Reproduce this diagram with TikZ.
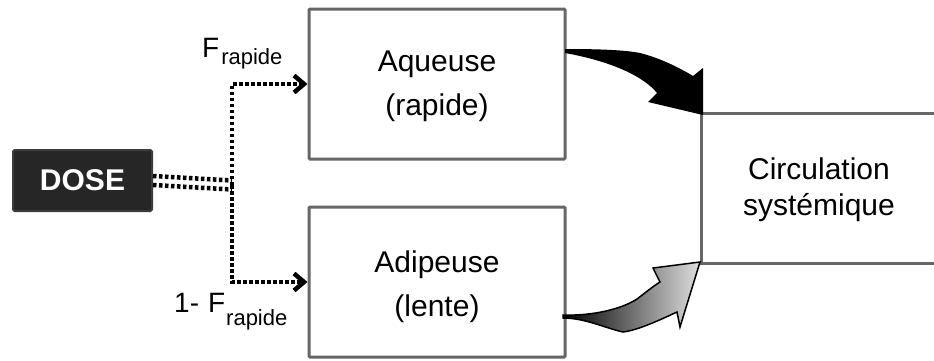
\documentclass[tikz,border=0pt]{standalone}
\usepackage{fontspec}
\setmainfont{Liberation Sans}
\usetikzlibrary{arrows.meta}
\definecolor{boxgray}{HTML}{666666}
\definecolor{dosefill}{HTML}{262626}
\definecolor{doseborder}{HTML}{3C3C3C}
\begin{document}
\begin{tikzpicture}[x=1pt,y=-1pt,
  boxline/.style={draw=boxgray, line width=3pt},
  box/.style={boxline, fill=white, minimum width=256pt, minimum height=150pt, inner sep=0pt, rounded corners=1pt},
  boxtext/.style={align=center, inner sep=0pt, font=\fontsize{30}{44}\selectfont},
  dotline/.style={line width=4.5pt, dash pattern=on 3.5pt off 2.5pt},
  chev/.style={-{Straight Barb[length=10pt,width=17pt,line width=4.5pt]}},
  lbl/.style={anchor=base west, inner sep=0pt, font=\fontsize{28}{28}\selectfont}]
\useasboundingbox (0,0) rectangle (934,360);

% boxes
\node[box] (aq) at (437,84) {};
\node[box] (ad) at (437,282) {};
\node[boxtext] (aqt) at (437,86.5) {Aqueuse\\(rapide)};
\node[boxtext] (adt) at (437,287) {Adipeuse\\(lente)};

% circulation
\coordinate (c1) at (934,113);
\coordinate (c2) at (701,113);
\coordinate (c3) at (701,263);
\coordinate (c4) at (934,263);
\draw[boxline] (c1) -- (c2) -- (c3) -- (c4);
\node[boxtext, font=\fontsize{30}{36}\selectfont] (cit) at (819,190) {Circulation\\systémique};

% dose
\node[draw=doseborder, line width=2pt, fill=dosefill, rounded corners=1.5pt, minimum width=139pt, minimum height=61pt, text=white, font=\fontsize{30}{30}\selectfont\bfseries] (dose) at (82.5,180.5) {DOSE};

% dotted connectors
\coordinate (j) at (232,185);
\draw[dotline] ([yshift=-4.5pt]dose.east) -- ([yshift=-4.5pt]j);
\draw[dotline] ([yshift=4.5pt]dose.east) -- ([yshift=4.5pt]j);
\draw[dotline, chev] (j) |- (aq.west);
\draw[dotline, chev] (j) |- (ad.west);

% labels
\node[lbl] (fr) at (202,57) {F\kern2pt\raisebox{-7pt}{\fontsize{22}{22}\selectfont rapide}};
\node[lbl] (fr2) at (174,312) {1-\kern9pt F\kern1pt\raisebox{-13pt}{\fontsize{22}{22}\selectfont rapide}};

% black curved arrow
\fill[black] (565,49) .. controls (600,49) and (625,50) .. (640,53)
  .. controls (660,58) and (680,68) .. (693,76) -- (703,68) -- (703,115) -- (648,102) -- (657,93)
  .. controls (645,78) and (615,62) .. (565,53) -- cycle;

% gray gradient arrow
\shade[left color=black, middle color=gray!50, right color=gray!25, draw=black, line width=1.5pt]
  (563,315) .. controls (590,316) and (620,310) .. (637,299)
  .. controls (645,293) and (652,287) .. (660,282) -- (653,268) -- (700,262) -- (680,327) -- (677,312)
  .. controls (668,316) and (640,330) .. (623,332)
  .. controls (605,328) and (585,318) .. (563,318) -- cycle;
\end{tikzpicture}
\end{document}
